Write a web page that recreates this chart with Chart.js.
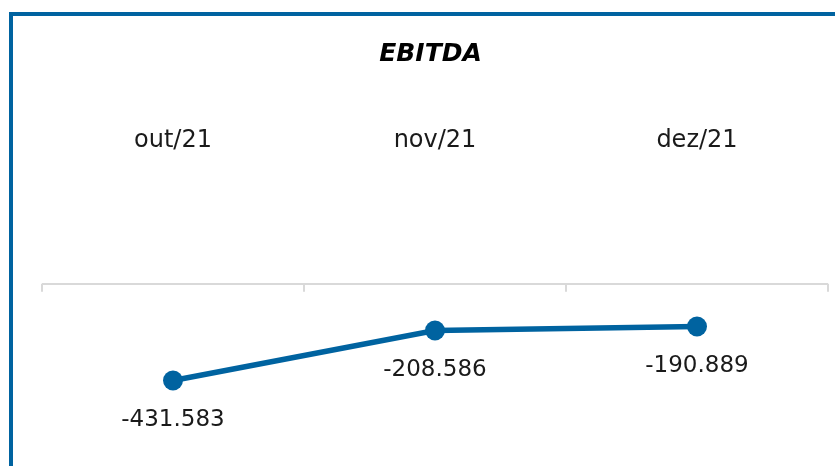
<!DOCTYPE html>
<html>
<head>
<meta charset="utf-8">
<script src="https://cdn.jsdelivr.net/npm/chart.js@4.4.0/dist/chart.umd.min.js"></script>
<style>
html, body { margin: 0; padding: 0; background: #fff; overflow: hidden; }
#moldura { position: absolute; left: 9px; top: 12px; width: 900px; height: 500px;
  border-left: 4px solid #0063a0; border-top: 4px solid #0063a0; }
#grafico { position: absolute; left: 0; top: 0; }
</style>
</head>
<body>
<div id="moldura"></div>
<canvas id="grafico" width="838" height="466"></canvas>
<script>
// dados do gráfico
const meses = ['out/21', 'nov/21', 'dez/21'];
const ebitda = [-431583, -208586, -190889];

const azul = '#0063a0';

// formata no padrão brasileiro (-431.583)
function formata(v) {
  const s = Math.abs(v).toString().replace(/\B(?=(\d{3})+(?!\d))/g, '.');
  return (v < 0 ? '-' : '') + s;
}

// pequenas marcas para baixo na linha do zero, entre as categorias
const marcasEixo = {
  id: 'marcasEixo',
  beforeDatasetsDraw(chart) {
    const x = chart.scales.x, y = chart.scales.y;
    const y0 = y.getPixelForValue(0);
    const ctx = chart.ctx;
    ctx.save();
    ctx.strokeStyle = '#d9d9d9';
    ctx.lineWidth = 2;
    ctx.beginPath();
    for (let i = 0; i <= meses.length; i++) {
      const px = x.getPixelForValue(i - 0.5);
      ctx.moveTo(px, y0);
      ctx.lineTo(px, y0 + 8);
    }
    ctx.stroke();
    ctx.restore();
  }
};

// rótulos de valor abaixo de cada ponto
const rotulos = {
  id: 'rotulos',
  afterDatasetsDraw(chart) {
    const ctx = chart.ctx;
    const meta = chart.getDatasetMeta(0);
    ctx.save();
    ctx.font = '23px "DejaVu Sans"';
    ctx.fillStyle = '#1a1a1a';
    ctx.textAlign = 'center';
    ctx.textBaseline = 'middle';
    meta.data.forEach((pt, i) => ctx.fillText(formata(ebitda[i]), pt.x, pt.y + 40));
    ctx.restore();
  }
};

new Chart(document.getElementById('grafico'), {
  type: 'line',
  data: {
    labels: meses,
    datasets: [{
      data: ebitda,
      borderColor: azul,
      backgroundColor: azul,
      borderWidth: 5.5,
      pointRadius: 10,
      pointHoverRadius: 10,
      pointBorderWidth: 0,
      tension: 0,
      clip: false
    }]
  },
  options: {
    responsive: false,
    animation: false,
    events: [],
    layout: { padding: { left: 30, right: 7, top: 0, bottom: 0 } },
    plugins: {
      legend: { display: false },
      tooltip: { enabled: false },
      title: {
        display: true,
        text: 'EBITDA',
        color: '#000',
        font: { family: 'DejaVu Sans', size: 25, weight: 'bold', style: 'italic' },
        padding: { top: 39, bottom: 0 }
      }
    },
    scales: {
      x: {
        position: 'top',
        offset: true,
        grid: { display: false, drawTicks: false },
        border: { display: false },
        ticks: { padding: 57, color: '#1a1a1a', font: { family: 'DejaVu Sans', size: 24 } }
      },
      y: {
        min: -768700,
        max: 321000,
        afterBuildTicks: s => { s.ticks = [{ value: 0 }]; },
        afterFit: s => { s.width = 12; },
        ticks: { display: false },
        border: { display: false },
        grid: { color: '#d9d9d9', lineWidth: 2, drawTicks: false }
      }
    }
  },
  plugins: [marcasEixo, rotulos]
});
</script>
</body>
</html>
